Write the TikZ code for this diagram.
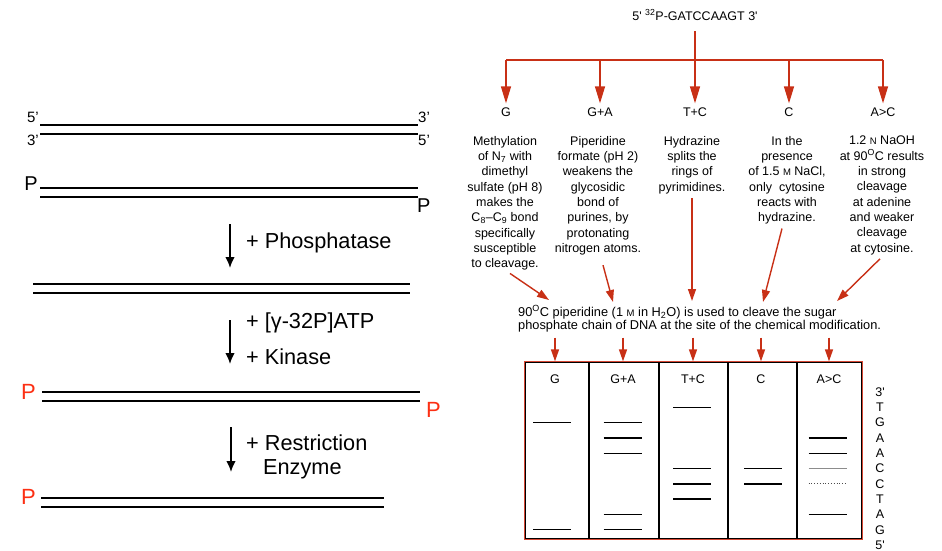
\documentclass[tikz,border=0pt]{standalone}
\usepackage{fontspec}
\setmainfont{Liberation Sans}
\usetikzlibrary{arrows.meta}
\definecolor{arrowred}{RGB}{200,48,22}
\definecolor{gelred}{RGB}{214,72,52}
\definecolor{hotred}{RGB}{252,48,20}
\newcommand{\smcap}[1]{{\fontsize{9.5}{15.3}\selectfont #1}}
\newcommand{\qt}{\textquotesingle}
\tikzset{>=latex}

\begin{document}
\begin{tikzpicture}[x=1pt,y=-1pt]
	\tikzstyle{strand} = [line width=2.7pt]
	\tikzstyle{step_arrow} = [-{Latex[length=11pt,width=9.5pt]}, line width=1.7pt]
	\tikzstyle{big_text} = [font=\fontsize{21.7}{25}\selectfont, inner sep=0pt, anchor=west]
	\tikzstyle{end_label} = [font=\fontsize{15}{18}\selectfont, inner sep=1pt]
	\tikzstyle{phos} = [font=\fontsize{20}{24}\selectfont, inner sep=0pt]
	\tikzstyle{phos_hot} = [font=\fontsize{22}{26}\selectfont, inner sep=0pt, text=hotred]
	\tikzstyle{small_text} = [font=\fontsize{12.5}{15.3}\selectfont, inner sep=0pt, align=center]
	\tikzstyle{red_line} = [draw=arrowred, line width=1.4pt]
	\tikzstyle{react} = [red_line, -{Triangle[length=17pt,width=10pt]}, shorten >=4pt]
	\tikzstyle{react_small} = [red_line, -{Triangle[length=12pt,width=8pt]}]
	\tikzstyle{lane} = [draw=black, line width=1.3pt, minimum height=177pt, inner sep=0pt]
	\tikzstyle{band} = [line width=1.4pt]

	\useasboundingbox (0,0) rectangle (942,551);

%----------left: end labelling of the duplex------------------
	\draw[strand] (40,125) -- (418,125);
	\draw[strand] (40,134) -- (418,134);
	\node[end_label, anchor=south east] (d1a) at (40,124) {5’};
	\node[end_label, anchor=north east] (d1b) at (40,134) {3’};
	\node[end_label, anchor=south west] (d1c) at (417,124) {3’};
	\node[end_label, anchor=north west] (d1d) at (417,134) {5’};

	\draw[strand] (40,188) -- (418,188);
	\draw[strand] (40,197) -- (418,197);
	\node[phos, anchor=east] (p2a) at (38,184) {P};
	\node[phos, anchor=west] (p2b) at (417,206) {P};

	\coordinate (s1a) at (230,224);
	\coordinate (s1b) at (230,268);
	\draw[step_arrow] (s1a) -- (s1b);
	\node[big_text] (phosphatase) at (246,243) {+ Phosphatase};

	\draw[strand] (33,284) -- (410,284);
	\draw[strand] (33,293) -- (410,293);

	\coordinate (s2a) at (230,320);
	\coordinate (s2b) at (230,364);
	\draw[step_arrow] (s2a) -- (s2b);
	\node[big_text] (atp) at (246,323) {+ [γ-32P]ATP};
	\node[big_text] (kinase) at (246,357) {+ Kinase};

	\draw[strand] (42,392) -- (420,392);
	\draw[strand] (42,401) -- (420,401);
	\node[phos_hot, anchor=east] (p4a) at (36,392) {P};
	\node[phos_hot, anchor=west] (p4b) at (426,410) {P};

	\coordinate (s3a) at (231,427);
	\coordinate (s3b) at (231,472);
	\draw[step_arrow] (s3a) -- (s3b);
	\node[big_text] (restr) at (246,443) {+ Restriction};
	\node[big_text] (enzyme) at (263,469) {Enzyme};

	\draw[strand] (41,498) -- (384,498);
	\draw[strand] (41,507) -- (384,507);
	\node[phos_hot, anchor=east] (p5a) at (36,497) {P};

%----------right: the five reactions--------------------------
	\node[small_text] (title) at (695,15) {5\qt{} \textsuperscript{32}P-GATCCAAGT 3\qt};
	\coordinate (fork) at (695,60);
	\draw[red_line] (title.south) ++(0,11) -- (fork);

	\foreach \nm/\x/\txt in {mG/506/G, mGA/600/G+A, mTC/695/T+C, mC/789/C, mAC/883/A>C} {
		\node[small_text] (\nm) at (\x,112) {\txt};
		\draw[react] (\nm |- fork) -- (\nm.north);
	}
	\draw[red_line] (mG |- fork) -- (mAC |- fork);

	\node[small_text, anchor=north] (dG) at (505,136) {Methylation\\of N\textsubscript{7} with\\dimethyl\\sulfate (pH 8)\\makes the\\C\textsubscript{8}--C\textsubscript{9} bond\\specifically\\susceptible\\to cleavage.};
	\node[small_text, anchor=north] (dGA) at (598,136) {Piperidine\\formate (pH 2)\\weakens the\\glycosidic\\bond of\\purines, by\\protonating\\nitrogen atoms.};
	\node[small_text, anchor=north] (dTC) at (692,136) {Hydrazine\\splits the\\rings of\\pyrimidines.};
	\node[small_text, anchor=north] (dC) at (787,136) {In the\\presence\\of 1.5 \smcap{M} NaCl,\\only\ \ cytosine\\reacts with\\hydrazine.};
	\node[small_text, anchor=north] (dAC) at (882,136) {1.2 \smcap{N} NaOH\\at 90\textsuperscript{O}C results\\in strong\\cleavage\\at adenine\\and weaker\\cleavage\\at cytosine.};

%----------cleavage step---------------------------------------
	\node[small_text, align=left, anchor=north west, font=\fontsize{12.8}{13.5}\selectfont] (capt) at (518,305.5) {90\textsuperscript{O}C piperidine (1 \smcap{M} in H\textsubscript{2}O) is used to cleave the sugar\\phosphate chain of DNA at the site of the chemical modification.};

	\coordinate (hit1) at (549,300);
	\coordinate (hit2) at (613,302);
	\coordinate (hit3) at (692,301);
	\coordinate (hit4) at (763,302);
	\coordinate (hit5) at (837,301);
	\draw[react_small] ([shift={(5,3)}]dG.south) -- (hit1);
	\draw[react_small] ([shift={(5,10)}]dGA.south) -- (hit2);
	\draw[react_small] ([shift={(0,4)}]dTC.south) -- (hit3);
	\draw[react_small] ([shift={(-5,4)}]dC.south) -- (hit4);
	\draw[react_small] ([shift={(-2,4)}]dAC.south) -- (hit5);

%----------the gel----------------------------------------------
	\foreach \nm/\x/\w/\lx/\txt in {lG/557/64/555/G, lGA/624/70/623/G+A, lTC/693.5/69/693/T+C, lC/762.5/69/761/C, lAC/829.5/65/829/A>C} {
		\node[lane, minimum width=\w pt] (\nm) at (\x,450.5) {};
		\node[small_text] (\nm-t) at (\lx,379) {\txt};
		\draw[react_small] (\nm-t |- capt.south) ++(0,5) -- (\nm-t |- \nm.north);
	}
	\draw[draw=gelred, line width=1.5pt] (lG.north west) rectangle (lAC.south east);

	\foreach \x/\rows in {552/{2,9}, 622.5/{2,3,4,8,9}, 692/{1,5,6,7}, 763/{5,6}, 827.5/{3,4,8}}
		\foreach \r in \rows
			\draw[band] (\x-19,392+15.3*\r) -- (\x+19,392+15.3*\r);
	\draw[band, line width=0.6pt, black!45] (808.5,468.5) -- (846.5,468.5);
	\draw[band, line width=0.8pt, dotted, black!70] (808.5,483.8) -- (846.5,483.8);

	\foreach \s [count=\i from 0] in {3\qt,T,G,A,A,C,C,T,A,G,5\qt}
		\node[small_text] (seq\i) at (880,392+15.3*\i) {\s};

\end{tikzpicture}
\end{document}
